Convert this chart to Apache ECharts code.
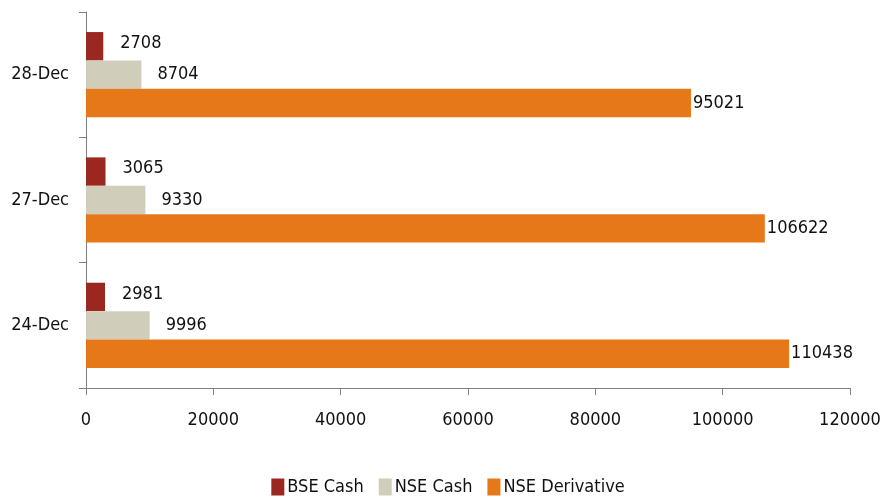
<!DOCTYPE html>
<html>
<head>
<meta charset="utf-8">
<script src="https://cdn.jsdelivr.net/npm/echarts@6/dist/echarts.min.js"></script>
<style>
html, body { margin: 0; padding: 0; background: #fff; }
#main { width: 896px; height: 501px; }
</style>
</head>
<body>
<div id="main"></div>
<script>
// categories run bottom to top
var dates = ['24-Dec', '27-Dec', '28-Dec'];
var bseCash = [2981, 3065, 2708];
var nseCash = [9996, 9330, 8704];
var nseDerivative = [110438, 106622, 95021];

// pick a narrow face if one is installed, otherwise fall back
function pickFont() {
    var ctx = document.createElement('canvas').getContext('2d');
    var candidates = ['Liberation Sans Narrow', 'Arial Narrow', 'DejaVu Sans Condensed', 'Roboto Condensed'];
    ctx.font = '20px monospace';
    var base = ctx.measureText('28-Dec 0123456789').width;
    for (var i = 0; i < candidates.length; i++) {
        ctx.font = '20px "' + candidates[i] + '", monospace';
        if (ctx.measureText('28-Dec 0123456789').width !== base) {
            return { family: '"' + candidates[i] + '"', size: i === 2 ? 18 : 20 };
        }
    }
    return { family: '"Liberation Sans", sans-serif', size: 18 };
}
var FONT = pickFont();

function barChart(id) {
    var myChart = echarts.init(document.getElementById(id));
    var labelStyle = function (dist, dy) {
        return {
            show: true,
            position: 'right',
            distance: dist,
            offset: [0, dy],
            color: '#111',
            fontSize: FONT.size,
            fontFamily: FONT.family
        };
    };
    var option = {
        animation: false,
        color: ['#9B2820', '#D0CEBB', '#E77819'],
        legend: {
            bottom: 0,
            left: 'center',
            itemWidth: 13,
            itemHeight: 17,
            itemGap: 15,
            icon: 'rect',
            textStyle: {
                fontSize: FONT.size,
                fontFamily: FONT.family,
                color: '#111',
                padding: [0, 0, 0, -2]
            },
            data: ['BSE Cash', 'NSE Cash', 'NSE Derivative']
        },
        grid: {
            left: 86,
            right: 46,
            top: 12,
            bottom: 113
        },
        xAxis: {
            type: 'value',
            min: 0,
            max: 120000,
            interval: 20000,
            splitLine: { show: false },
            axisLine: { show: true, lineStyle: { color: '#808080', width: 1 } },
            axisTick: { show: true, length: 7, lineStyle: { color: '#808080' } },
            axisLabel: {
                margin: 23,
                color: '#111',
                fontSize: FONT.size,
                fontFamily: FONT.family,
                formatter: function (v) { return String(v); }
            }
        },
        yAxis: {
            type: 'category',
            data: dates,
            axisLine: { show: true, lineStyle: { color: '#808080', width: 1 } },
            axisTick: { show: true, length: 7, lineStyle: { color: '#808080' } },
            axisLabel: {
                margin: 17,
                color: '#111',
                fontSize: FONT.size,
                fontFamily: FONT.family
            }
        },
        series: [{
            name: 'BSE Cash',
            type: 'bar',
            barGap: '0%',
            barCategoryGap: '32%',
            label: labelStyle(17, -3),
            data: bseCash
        }, {
            name: 'NSE Cash',
            type: 'bar',
            label: labelStyle(16, 0),
            data: nseCash
        }, {
            name: 'NSE Derivative',
            type: 'bar',
            label: labelStyle(2, 0),
            data: nseDerivative
        }]
    };
    myChart.setOption(option);
    window.addEventListener('resize', function () {
        myChart.resize();
    });
}

barChart('main');
</script>
</body>
</html>
